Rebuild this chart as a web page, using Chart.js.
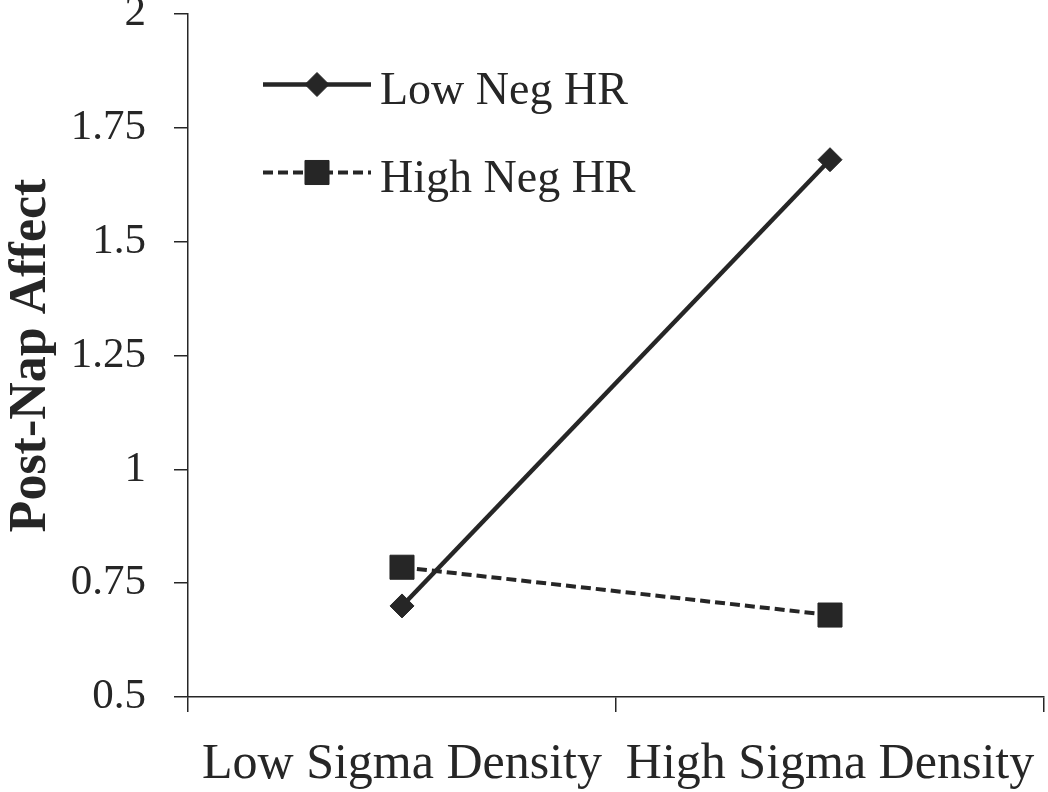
<!DOCTYPE html>
<html>
<head>
<meta charset="utf-8">
<script src="https://cdn.jsdelivr.net/npm/chart.js@4/dist/chart.umd.min.js"></script>
<style>
  html, body { margin: 0; padding: 0; background: #ffffff; }
  #wrap { width: 1048px; height: 792px; }
</style>
</head>
<body>
<div id="wrap"><canvas id="c" width="1048" height="792"></canvas></div>
<script>
const categories = ['Low Sigma Density', 'High Sigma Density'];
const seriesNames = ['Low Neg HR', 'High Neg HR'];
const lowNegHR = [0.70, 1.68];
const highNegHR = [0.785, 0.68];
const yTickValues = [0.5, 0.75, 1, 1.25, 1.5, 1.75, 2];
const yTickLabels = ['0.5', '0.75', '1', '1.25', '1.5', '1.75', '2'];

const INK = '#262626';
const FONT = '"Liberation Serif", "Times New Roman", serif';

const legendPlugin = {
  id: 'insideLegend',
  afterDraw(chart) {
    const ctx = chart.ctx;
    const rows = [84.5, 172.5];
    const baselines = [104, 192];
    ctx.save();
    chart.data.datasets.forEach((ds, i) => {
      const y = rows[i];
      ctx.strokeStyle = ds.borderColor;
      ctx.lineWidth = ds.borderWidth;
      ctx.setLineDash(ds.borderDash || []);
      ctx.lineCap = 'butt';
      ctx.beginPath();
      ctx.moveTo(263, y);
      ctx.lineTo(371, y);
      ctx.stroke();
      ctx.setLineDash([]);
      ctx.fillStyle = ds.pointBackgroundColor;
      ctx.strokeStyle = ds.pointBorderColor;
      ctx.lineWidth = ds.pointBorderWidth;
      Chart.helpers.drawPoint(ctx, {
        pointStyle: ds.pointStyle,
        radius: ds.pointRadius,
        rotation: 0,
        borderWidth: ds.pointBorderWidth
      }, 317, y);
      ctx.fillStyle = INK;
      ctx.font = '46px ' + FONT;
      ctx.textAlign = 'left';
      ctx.textBaseline = 'alphabetic';
      ctx.fillText(ds.label, 380, baselines[i]);
    });
    ctx.restore();
  }
};

function zeroPad(scale) {
  scale.paddingTop = 0;
  scale.paddingBottom = 0;
  scale.paddingLeft = 0;
  scale.paddingRight = 0;
}

new Chart(document.getElementById('c'), {
  type: 'line',
  data: {
    labels: categories,
    datasets: [
      {
        label: seriesNames[0],
        data: lowNegHR,
        borderColor: INK,
        borderWidth: 4.5,
        pointStyle: 'rectRot',
        pointRadius: 12,
        pointBackgroundColor: INK,
        pointBorderColor: INK,
        pointBorderWidth: 1,
        tension: 0,
        fill: false
      },
      {
        label: seriesNames[1],
        data: highNegHR,
        borderColor: INK,
        borderWidth: 4,
        borderDash: [10, 5],
        pointStyle: 'rect',
        pointRadius: 17,
        pointBackgroundColor: INK,
        pointBorderColor: INK,
        pointBorderWidth: 1,
        tension: 0,
        fill: false
      }
    ]
  },
  options: {
    responsive: false,
    animation: false,
    devicePixelRatio: 1,
    layout: { autoPadding: false, padding: { top: 14, right: 4, left: 0, bottom: 0 } },
    plugins: {
      legend: { display: false },
      tooltip: { enabled: false },
      title: { display: false }
    },
    scales: {
      x: {
        type: 'category',
        offset: true,
        grid: {
          display: true,
          offset: true,
          drawOnChartArea: false,
          drawTicks: true,
          tickLength: 15,
          color: INK,
          lineWidth: 1.5
        },
        border: { display: true, color: INK, width: 1.5 },
        ticks: {
          color: INK,
          font: { family: FONT, size: 50, lineHeight: '35px' },
          padding: 0,
          maxRotation: 0,
          autoSkip: false,
          callback: function (value, index) {
            return ['', categories[index]];
          }
        },
        afterFit(scale) { scale.height = 95; zeroPad(scale); }
      },
      y: {
        type: 'linear',
        min: 0.5,
        max: 2,
        afterBuildTicks(scale) {
          scale.ticks = yTickValues.map(v => ({ value: v }));
        },
        grid: {
          display: true,
          drawOnChartArea: false,
          drawTicks: true,
          tickLength: 14,
          color: INK,
          lineWidth: 1.5
        },
        border: { display: true, color: INK, width: 1.5 },
        ticks: {
          color: INK,
          font: { family: FONT, size: 43 },
          padding: 28,
          callback: (v) => {
            const i = yTickValues.indexOf(v);
            return i >= 0 ? yTickLabels[i] : '';
          }
        },
        title: {
          display: true,
          text: 'Post-Nap Affect',
          color: INK,
          font: { family: FONT, size: 52, weight: 'bold', lineHeight: 1.2 },
          padding: { top: 0, bottom: 0 }
        },
        afterFit(scale) { scale.width = 188; zeroPad(scale); }
      }
    }
  },
  plugins: [legendPlugin]
});
</script>
</body>
</html>
